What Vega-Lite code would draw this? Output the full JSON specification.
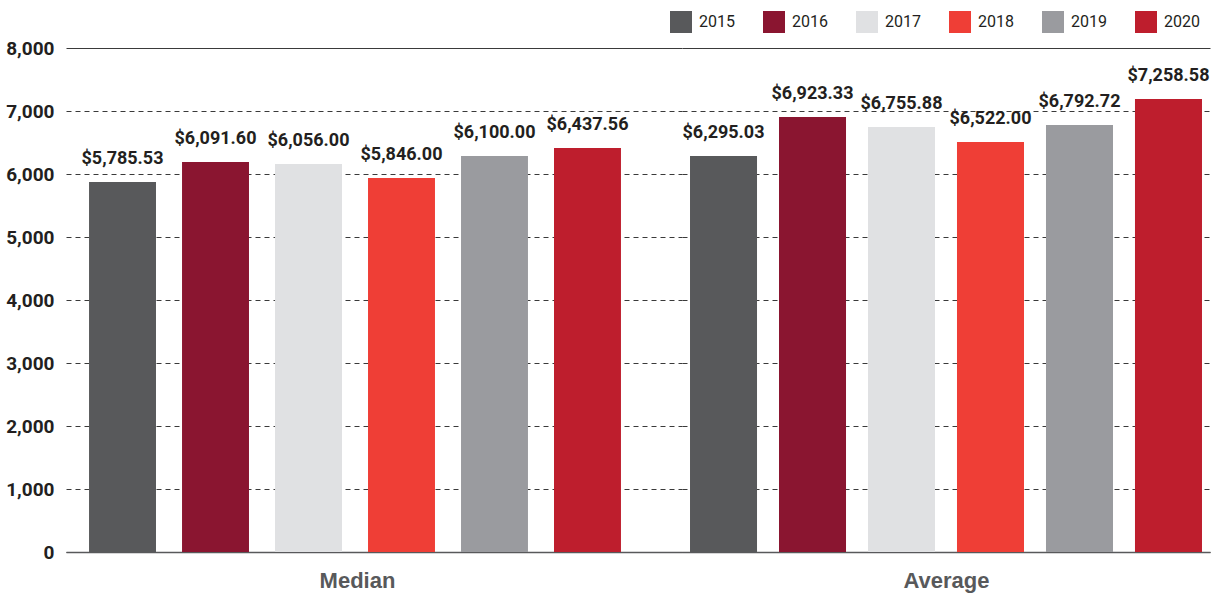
{
  "$schema": "https://vega.github.io/schema/vega-lite/v6.json",
  "padding": {"left": 5, "top": 11, "right": 16, "bottom": 6},
  "autosize": {"type": "pad"},
  "background": "white",
  "spacing": 0,
  "bounds": "flush",
  "datasets": {
    "median": [
      {"group": "Median", "year": "2015", "value": 5873, "label": "$5,785.53"},
      {"group": "Median", "year": "2016", "value": 6190, "label": "$6,091.60"},
      {"group": "Median", "year": "2017", "value": 6159, "label": "$6,056.00"},
      {"group": "Median", "year": "2018", "value": 5937, "label": "$5,846.00"},
      {"group": "Median", "year": "2019", "value": 6286, "label": "$6,100.00"},
      {"group": "Median", "year": "2020", "value": 6413, "label": "$6,437.56"}
    ],
    "average": [
      {"group": "Average", "year": "2015", "value": 6286, "label": "$6,295.03"},
      {"group": "Average", "year": "2016", "value": 6905, "label": "$6,923.33"},
      {"group": "Average", "year": "2017", "value": 6746, "label": "$6,755.88"},
      {"group": "Average", "year": "2018", "value": 6508, "label": "$6,522.00"},
      {"group": "Average", "year": "2019", "value": 6778, "label": "$6,792.72"},
      {"group": "Average", "year": "2020", "value": 7190, "label": "$7,258.58"}
    ]
  },
  "config": {
    "view": {"stroke": null},
    "axis": {
      "gridColor": "#3a3a3a",
      "gridDash": {"condition": {"test": "datum.value === 8000 || datum.value === 0", "value": []}, "value": [5, 4]},
      "gridWidth": 1
    }
  },
  "hconcat": [
    {
      "width": 616,
      "height": 504,
      "data": {"name": "median"},
      "encoding": {
        "x": {
          "field": "year", "type": "nominal",
          "scale": {"paddingInner": 0.28, "paddingOuter": 0.452, "align": 0.274},
          "axis": {"labels": false, "ticks": false, "domain": true, "domainColor": "#58595b", "domainWidth": 1.5,
                   "title": "Median", "titleX": 291, "titlePadding": 18, "titleFont": "Liberation Sans", "titleFontSize": 22,
                   "titleFontWeight": "bold", "titleColor": "#58595b"}
        },
        "y": {
          "field": "value", "type": "quantitative",
          "scale": {"domain": [0, 8000], "nice": false},
          "axis": {"values": [0, 1000, 2000, 3000, 4000, 5000, 6000, 7000, 8000], "format": ",d", "title": null,
                   "domain": false, "ticks": false, "labelPadding": 12, "labelFont": "Roboto",
                   "labelFontSize": 19, "labelFontWeight": "bold", "labelColor": "#231f20", "grid": true}
        }
      },
      "layer": [
        {
          "mark": {"type": "bar"},
          "encoding": {
            "color": {
              "field": "year", "type": "nominal",
              "scale": {"domain": ["2015", "2016", "2017", "2018", "2019", "2020"],
                        "range": ["#58595b", "#8a1530", "#e0e1e3", "#ef3e36", "#9a9b9f", "#be1e2d"]},
              "legend": {"orient": "none", "legendX": 604, "legendY": -37, "direction": "horizontal", "columns": 6,
                         "title": null, "symbolType": "square", "symbolSize": 484, "symbolStrokeWidth": 0,
                         "symbolOpacity": 1, "labelFont": "Roboto", "labelFontSize": 16,
                         "labelColor": "#231f20", "labelOffset": 7, "columnPadding": 28}
            }
          }
        },
        {
          "mark": {"type": "text", "baseline": "bottom", "dy": -14, "font": "Roboto", "fontSize": 18,
                   "fontWeight": "bold", "color": "#231f20"},
          "encoding": {"text": {"field": "label"}}
        }
      ]
    },
    {
      "width": 528,
      "height": 504,
      "data": {"name": "average"},
      "encoding": {
        "x": {
          "field": "year", "type": "nominal",
          "scale": {"paddingInner": 0.247, "paddingOuter": 0.09},
          "axis": {"labels": false, "ticks": false, "domain": true, "domainColor": "#58595b", "domainWidth": 1.5,
                   "title": "Average", "titlePadding": 18, "titleFont": "Liberation Sans", "titleFontSize": 22,
                   "titleFontWeight": "bold", "titleColor": "#58595b"}
        },
        "y": {
          "field": "value", "type": "quantitative",
          "scale": {"domain": [0, 8000], "nice": false},
          "axis": {"values": [0, 1000, 2000, 3000, 4000, 5000, 6000, 7000, 8000], "title": null, "labels": false,
                   "domain": false, "ticks": false, "grid": true}
        }
      },
      "layer": [
        {
          "mark": {"type": "bar"},
          "encoding": {"color": {"field": "year", "type": "nominal"}}
        },
        {
          "mark": {"type": "text", "baseline": "bottom", "dy": -14, "font": "Roboto", "fontSize": 18,
                   "fontWeight": "bold", "color": "#231f20"},
          "encoding": {"text": {"field": "label"}}
        }
      ]
    }
  ]
}
